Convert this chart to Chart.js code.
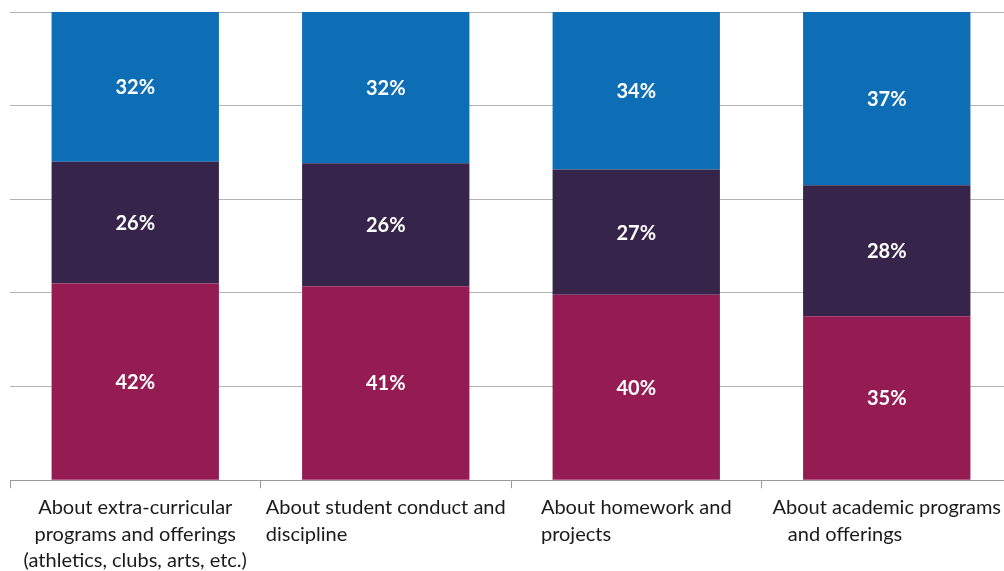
<!DOCTYPE html>
<html>
<head>
<meta charset="utf-8">
<script src="https://cdn.jsdelivr.net/npm/chart.js@4"></script>
<style>
  html, body { margin: 0; padding: 0; background: #fff; overflow: hidden; }
  #wrap { width: 1012px; height: 580px; }
</style>
</head>
<body>
<div id="wrap"><canvas id="myChart"></canvas></div>
<script>
// categories and answer shares (percent)
const categories = [
  ['About extra-curricular', 'programs and offerings', '(athletics, clubs, arts, etc.)'],
  ['About student conduct and', 'discipline'],
  ['About homework and', 'projects'],
  ['About academic programs', '   and offerings']
]
const labelAlign = ['center', 'left', 'left', 'left']
const bottomShare = [42, 41, 40, 35]
const middleShare = [26, 26, 27, 28]
const topShare = [32, 32, 34, 37]

const colors = ['#951c53', '#36244a', '#0d6db5']
const labelFont = { family: 'Lato, "Open Sans", sans-serif', size: 20, lineHeight: 1.33 }

// 100% stacked: each bar is scaled by its own total
const totals = categories.map((c, i) => bottomShare[i] + middleShare[i] + topShare[i])
const toPct = arr => arr.map((v, i) => v / totals[i] * 100)

// white value labels in the middle of each segment
const segmentLabels = {
  id: 'segmentLabels',
  afterDatasetsDraw(chart) {
    const ctx = chart.ctx
    ctx.save()
    ctx.fillStyle = '#fff'
    ctx.font = 'bold 20px Lato, "Open Sans", sans-serif'
    ctx.textAlign = 'center'
    ctx.textBaseline = 'middle'
    chart.data.datasets.forEach((ds, di) => {
      chart.getDatasetMeta(di).data.forEach((bar, i) => {
        const mid = (bar.y + bar.base) / 2 + 1
        ctx.fillText(ds.raw[i] + '%', bar.x, mid)
      })
    })
    ctx.restore()
  }
}

// category labels: widest line centred, the other lines either centred or left-aligned to it
const categoryLabels = {
  id: 'categoryLabels',
  afterDraw(chart) {
    const ctx = chart.ctx
    const xs = chart.scales.x
    const opt = xs.options
    const lh = labelFont.size * labelFont.lineHeight
    ctx.save()
    ctx.fillStyle = '#1a1a1a'
    ctx.font = labelFont.size + 'px ' + labelFont.family
    ctx.textBaseline = 'middle'
    categories.forEach((lines, i) => {
      const cx = xs.getPixelForTick(i)
      const w = Math.max(...lines.map(l => ctx.measureText(l).width))
      let y = xs.top + opt.grid.tickLength + opt.ticks.padding + lh / 2
      lines.forEach(l => {
        if (labelAlign[i] === 'center') {
          ctx.textAlign = 'center'
          ctx.fillText(l, cx, y)
        } else {
          ctx.textAlign = 'left'
          ctx.fillText(l, cx - w / 2, y)
        }
        y += lh
      })
    })
    ctx.restore()
  }
}

const ctx = document.getElementById('myChart').getContext('2d')

const myChart = new Chart(ctx, {
  type: 'bar',
  data: {
    labels: categories,
    datasets: [bottomShare, middleShare, topShare].map((arr, k) => ({
      data: toPct(arr),
      raw: arr,
      backgroundColor: colors[k],
      borderWidth: 0,
      categoryPercentage: 1,
      barPercentage: 0.668
    }))
  },
  options: {
    responsive: true,
    maintainAspectRatio: false,
    animation: false,
    layout: { padding: { left: 10, top: 12, right: 0, bottom: 0 } },
    plugins: {
      legend: { display: false },
      tooltip: { enabled: false }
    },
    scales: {
      x: {
        stacked: true,
        grid: {
          drawOnChartArea: false,
          drawTicks: true,
          tickLength: 8,
          color: '#9a9a9a'
        },
        border: { color: '#9a9a9a', width: 1 },
        ticks: {
          // space is reserved here, the text itself is drawn by categoryLabels
          color: 'rgba(0,0,0,0)',
          font: labelFont,
          padding: 6,
          maxRotation: 0,
          autoSkip: false
        }
      },
      y: {
        stacked: true,
        min: 0,
        max: 100,
        ticks: { display: false, stepSize: 20 },
        grid: { color: '#b4b4b4', drawTicks: false },
        border: { display: false }
      }
    }
  },
  plugins: [segmentLabels, categoryLabels]
})
</script>
</body>
</html>
